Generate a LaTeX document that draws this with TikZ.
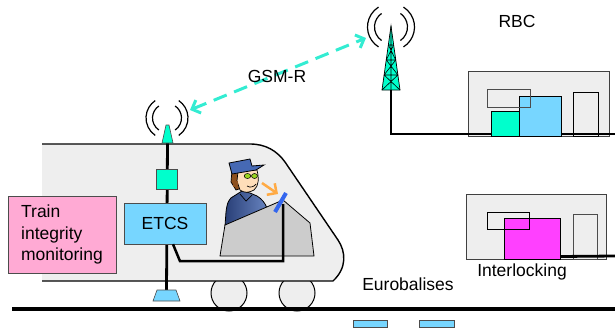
\documentclass[tikz,border=0pt]{standalone}
\usepackage{fontspec}
\setmainfont{Liberation Sans}
\usetikzlibrary{arrows.meta,positioning}

\definecolor{bodygray}{RGB}{238,238,238}
\definecolor{deskgray}{RGB}{204,204,204}
\definecolor{radioteal}{RGB}{0,255,204}
\definecolor{etcsblue}{RGB}{119,214,255}
\definecolor{timpink}{RGB}{255,170,212}
\definecolor{ilkmagenta}{RGB}{255,64,255}
\definecolor{gsmcyan}{RGB}{51,236,210}
\definecolor{shirtblue}{RGB}{58,90,170}
\definecolor{capblue}{RGB}{70,105,180}
\definecolor{skin}{RGB}{255,222,185}
\definecolor{hairbrown}{RGB}{140,80,30}
\definecolor{tabletblue}{RGB}{51,102,238}
\definecolor{handorange}{RGB}{255,170,68}

\begin{document}
\begin{tikzpicture}[x=1pt, y=-1pt,
    every node/.style={font=\fontsize{17.5}{21.5}\selectfont},
    box/.style={rectangle, draw=black!70, inner sep=0pt, align=center},
    outline/.style={rectangle, draw=black!70, inner sep=0pt, line width=1pt},
    building/.style={rectangle, fill=bodygray, draw=black!75, inner sep=0pt, line width=1pt},
    antenna/.style={draw=black!70, line width=0.6pt},
    wheel/.style={circle, fill=bodygray, draw=black, line width=1pt, inner sep=0pt, minimum size=36pt},
    wave/.style={line width=1.2pt},
    cable/.style={line width=2.8pt, line cap=butt},
    >={Straight Barb[length=7pt, width=14pt]},
  ]
  \useasboundingbox (0,0) rectangle (615,329);

  % --- WHEELS AND TRACK ---
  \node[wheel] (wheelA) at (229,293) {};
  \node[wheel] (wheelB) at (297,293) {};
  \draw[line width=3.5pt] (12,309) -- (615,309);

  % --- TRAIN BODY ---
  \fill[bodygray] (42,144) -- (250,144) .. controls (266,144) and (277,151) .. (285,162)
    -- (338,240) .. controls (346,252) and (347,268) .. (333,281) -- (42,281) -- cycle;
  \draw[line width=1.4pt] (42,144) -- (250,144) .. controls (266,144) and (277,151) .. (285,162)
    -- (338,240) .. controls (346,252) and (347,268) .. (333,281) -- (42,281);

  % --- DRIVER ---
  \shade[left color=shirtblue!70!black, right color=capblue!80!white, draw=black, line width=0.8pt]
    (225,226) -- (226,212) .. controls (227,203) and (229,198) .. (234,196) -- (242,191)
    -- (250,193) -- (257,196) .. controls (262,199) and (265,203) .. (267,208) -- (269,226) -- cycle;
  \draw[line width=0.7pt] (240,194) -- (246,201) -- (252,195);
  \fill[hairbrown, draw=black, line width=0.7pt] (232,170) -- (241,170) -- (242,188) -- (236,190) -- (231,182) -- cycle;
  \fill[skin, draw=black, line width=0.7pt] (238,171) -- (257,170) .. controls (259,178) and (259,186) .. (254,190)
    .. controls (249,193) and (244,193) .. (240,190) -- (237,181) -- cycle;
  \fill[hairbrown] (233,181) rectangle (238,187);
  \filldraw[fill=yellow!60!green, draw=black, line width=0.5pt] (247.5,176) ellipse (3.3 and 2.5);
  \filldraw[fill=yellow!60!green, draw=black, line width=0.5pt] (254.5,176) ellipse (3 and 2.5);
  \draw[line width=0.7pt] (247,186) .. controls (250,188) and (254,187) .. (256,184);
  \filldraw[fill=capblue, draw=black, line width=0.8pt] (229,163) -- (250,159) -- (252,166)
    -- (264,165) -- (256,170) -- (232,174) -- cycle;

  % --- CAB DESK ---
  \filldraw[fill=deskgray, draw=black, line width=0.8pt] (225,225) -- (283,200) -- (310,223)
    -- (314,256) -- (220,256) -- cycle;
  \draw[tabletblue, line width=4pt] (275,212) -- (286,193);
  \draw[->, handorange, line width=2.5pt] (262,183) -- (278,194);

  % --- ON-BOARD ETCS ---
  \coordinate (trainant) at (167.5,143);
  \coordinate (balant) at (166.5,290);
  \draw[cable] (trainant) -- (balant);
  \filldraw[antenna, fill=radioteal] (trainant) ++(-5.5,0) -- ++(4,-18) -- ++(3,0) -- ++(4,18) -- cycle;
  \filldraw[antenna, fill=etcsblue] (balant) ++(-9.5,0) -- ++(19,0) -- ++(4,11) -- ++(-27,0) -- cycle;
  \node[box, fill=radioteal, minimum width=21pt, minimum height=20pt] (modem) at (166.5,179) {};
  \node[box, fill=etcsblue, minimum width=82pt, minimum height=41pt] (etcs) at (165,223.5) {ETCS};
  \coordinate (desk) at (283,204);
  \draw[cable, line width=2.5pt] ([xshift=8pt]etcs.south) -- ++(7,17) -| (desk);

  \node[box, fill=timpink, minimum width=108pt, minimum height=77pt, align=left] (tim) at (62,234.5)
    {Train\\integrity\\monitoring};

  % train radio waves
  \coordinate (trainwave) at (167,118);
  \foreach \r in {14.5,21} {
    \draw[wave] (trainwave) ++(56:\r) arc[start angle=56, end angle=-56, radius=\r];
    \draw[wave] (trainwave) ++(124:\r) arc[start angle=124, end angle=236, radius=\r];
  }

  % --- GSM-R MAST ---
  \coordinate (masttop) at (391,26);
  \filldraw[fill=radioteal, draw=black, line width=0.7pt] (masttop) -- (400,90) -- (382,90) -- cycle;
  \draw[line width=0.6pt] (masttop) -- (391,90)
    (388.4,45) -- (395.7,60) -- (384.1,75) -- (400,90)
    (393.6,45) -- (386.3,60) -- (397.9,75) -- (382,90)
    (388.4,45) -- (393.6,45) (386.3,60) -- (395.7,60) (384.1,75) -- (397.9,75);
  \coordinate (mastfoot) at (391,90);
  \coordinate (mastwave) at (391,27);
  \foreach \r/\a in {16.5/55,23.5/58} {
    \draw[wave] (mastwave) ++(\a:\r) arc[start angle=\a, end angle=-\a, radius=\r];
    \draw[wave] (mastwave) ++(180-\a:\r) arc[start angle=180-\a, end angle=180+\a, radius=\r];
  }

  \draw[<->, gsmcyan, line width=3pt, dash pattern=on 14pt off 8pt] (190,110) -- (366,38);
  \node (gsmr) at (277,76) {GSM-R};

  % --- RBC ---
  \node[building, minimum width=141pt, minimum height=65pt] (rbc) at (538.5,103.5) {};
  \node[outline, minimum width=25pt, minimum height=44pt, draw=black] (rbcdoor) at (585.5,114) {};
  \coordinate (rbclink) at (615,134);
  \draw[cable] (mastfoot) |- (rbclink);
  \node[outline, fill=radioteal, minimum width=28pt, minimum height=25pt, draw=black] (rbcradio) at (505,123.5) {};
  \node[outline, fill=etcsblue, minimum width=42pt, minimum height=40pt, draw=black] (rbcserver) at (540,116) {};
  \node[outline, minimum width=43pt, minimum height=18pt] (rbcwin) at (508.5,98) {};
  \node (rbclabel) at (517,21) {RBC};

  % --- INTERLOCKING ---
  \node[building, minimum width=140pt, minimum height=65pt] (ilk) at (536,226.5) {};
  \node[outline, minimum width=24pt, minimum height=45pt] (ilkdoor) at (585,236.5) {};
  \coordinate (ilklink) at (615,256);
  \node[outline, fill=ilkmagenta, minimum width=56pt, minimum height=41pt, draw=black] (ilkbox) at (532,238.5) {};
  \draw[cable] ([yshift=3pt]ilkbox.south east) -- (ilklink);
  \node[outline, minimum width=42pt, minimum height=17pt, draw=black] (ilkwin) at (508,220.5) {};
  \node (ilklabel) at (522,272) {Interlocking};

  % --- EUROBALISES ---
  \node[box, fill=etcsblue, minimum width=34pt, minimum height=7pt] (baliseA) at (370,323.5) {};
  \node[box, fill=etcsblue, minimum width=35pt, minimum height=7pt, right=32pt of baliseA] (baliseB) {};
  \node (balabel) at (408,284) {Eurobalises};

\end{tikzpicture}
\end{document}
